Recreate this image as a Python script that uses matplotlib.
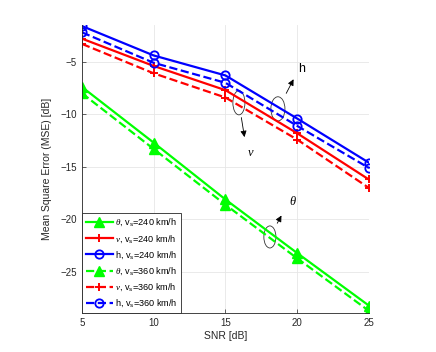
import matplotlib.pyplot as plt
from matplotlib.patches import Ellipse

plt.rcParams['font.family'] = ['Liberation Sans', 'DejaVu Sans']
plt.rcParams['mathtext.fontset'] = 'custom'
plt.rcParams['mathtext.it'] = 'Liberation Serif:italic'
plt.rcParams['mathtext.rm'] = 'Liberation Sans'

snr = [5, 10, 15, 20, 25]

# MSE in dB, v_s = 240 km/h
theta_240 = [-7.4, -12.7, -18.1, -23.2, -28.2]
nu_240 = [-2.8, -5.4, -7.7, -11.8, -16.2]
h_240 = [-1.6, -4.4, -6.3, -10.4, -14.6]
# MSE in dB, v_s = 360 km/h
theta_360 = [-8.0, -13.3, -18.6, -23.7, -28.7]
nu_360 = [-3.3, -6.1, -8.4, -12.4, -17.0]
h_360 = [-2.2, -5.1, -7.0, -11.1, -15.1]

labels = [r'$\theta$, v$_\mathrm{s}$=240 km/h', r'$\nu$, v$_\mathrm{s}$=240 km/h',
          r'h, v$_\mathrm{s}$=240 km/h', r'$\theta$, v$_\mathrm{s}$=360 km/h',
          r'$\nu$, v$_\mathrm{s}$=360 km/h', r'h, v$_\mathrm{s}$=360 km/h']

fig = plt.figure(figsize=(4.36, 3.52), dpi=100)
ax = fig.add_axes([0.188, 0.111, 0.658, 0.818])

lw = 1.6
ax.plot(snr, theta_240, '-', color=(0, 1, 0), lw=lw, marker='^', ms=6.5, label=labels[0])
ax.plot(snr, nu_240, '-', color=(1, 0, 0), lw=lw, marker='+', ms=6, mew=1.4, label=labels[1])
ax.plot(snr, h_240, '-', color=(0, 0, 1), lw=lw, marker='o', ms=6, mfc='none', mew=1.3, label=labels[2])
ax.plot(snr, theta_360, '--', color=(0, 1, 0), lw=lw, marker='^', ms=6.5, label=labels[3])
ax.plot(snr, nu_360, '--', color=(1, 0, 0), lw=lw, marker='+', ms=6, mew=1.4, label=labels[4])
ax.plot(snr, h_360, '--', color=(0, 0, 1), lw=lw, marker='o', ms=6, mfc='none', mew=1.3, label=labels[5])

ax.set_xlim(5, 25)
ax.set_ylim(-28.9, -1.5)
ax.set_xticks([5, 10, 15, 20, 25])
ax.set_yticks([-25, -20, -15, -10, -5])
ax.grid(True, color='#e6e6e6', lw=0.6)
ax.set_axisbelow(True)
ax.tick_params(labelsize=7, colors='#262626', direction='in', length=3, width=0.5)
for s in ['top', 'right']:
    ax.spines[s].set_visible(False)
for s in ['left', 'bottom']:
    ax.spines[s].set_color('#262626')
    ax.spines[s].set_linewidth(0.6)
ax.set_xlabel('SNR [dB]', fontsize=7.5, color='#262626', labelpad=2)
ax.set_ylabel('Mean Square Error (MSE) [dB]', fontsize=7.5, color='#262626', labelpad=6)

leg = ax.legend(loc='lower left', fontsize=6.6, frameon=True, fancybox=False,
                handlelength=3.0, handletextpad=0.2, borderpad=0.4, labelspacing=0.52,
                borderaxespad=0, framealpha=1)
leg.get_frame().set_edgecolor('#262626')
leg.get_frame().set_linewidth(0.6)

# ellipses with arrows
ax.add_patch(Ellipse((18.66, -9.48), 0.98, 2.3, fill=False, lw=0.6, color='#333333'))
ax.annotate('', xy=(19.84, -6.43), xytext=(19.15, -8.24),
            arrowprops=dict(arrowstyle='-|>', color='black', lw=0.6, mutation_scale=9))
ax.text(20.05, -6.0, 'h', fontsize=9)

ax.add_patch(Ellipse((15.94, -8.9), 0.84, 2.3, fill=False, lw=0.6, color='#333333'))
ax.annotate('', xy=(16.36, -12.43), xytext=(16.08, -10.05),
            arrowprops=dict(arrowstyle='-|>', color='black', lw=0.6, mutation_scale=9))
ax.text(16.5, -14.0, r'$\nu$', fontsize=9)

ax.add_patch(Ellipse((18.1, -21.67), 0.84, 2.1, fill=False, lw=0.6, color='#333333'))
ax.annotate('', xy=(19.0, -19.4), xytext=(18.52, -20.6),
            arrowprops=dict(arrowstyle='-|>', color='black', lw=0.6, mutation_scale=9))
ax.text(19.45, -18.6, r'$\theta$', fontsize=9)

fig.savefig('out.png', dpi=100)
